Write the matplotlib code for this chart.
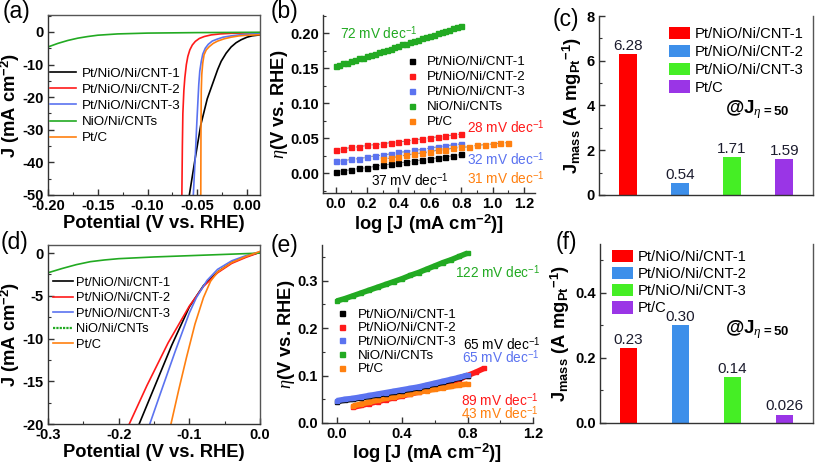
import matplotlib
matplotlib.use("Agg")
import matplotlib.pyplot as plt
from matplotlib.ticker import MultipleLocator
from matplotlib.lines import Line2D
from matplotlib.patches import Patch

plt.rcParams['font.family'] = ['Liberation Sans', 'DejaVu Sans']
plt.rcParams['mathtext.fontset'] = 'custom'
plt.rcParams['mathtext.rm'] = 'Liberation Sans'
plt.rcParams['mathtext.bf'] = 'Liberation Sans:bold'
plt.rcParams['mathtext.it'] = 'Liberation Serif:italic'

# ---------------- data ----------------
names = ['Pt/NiO/Ni/CNT-1', 'Pt/NiO/Ni/CNT-2', 'Pt/NiO/Ni/CNT-3', 'NiO/Ni/CNTs', 'Pt/C']
bar_names = ['Pt/NiO/Ni/CNT-1', 'Pt/NiO/Ni/CNT-2', 'Pt/NiO/Ni/CNT-3', 'Pt/C']

# (a) LSV acid
a_v1 = [-0.058, -0.0525, -0.0465, -0.040, -0.033, -0.0295, -0.026, -0.021, -0.016, -0.011, -0.006, 0.0, 0.005, 0.013]
a_j1 = [-50, -39.5, -28.5, -20.5, -14.5, -11.5, -9.0, -6.5, -4.6, -3.3, -2.4, -1.6, -1.2, -0.9]
a_v2 = [-0.0655, -0.065, -0.0645, -0.0635, -0.0625, -0.061, -0.0595, -0.0575, -0.055, -0.052, -0.048, -0.043, -0.036, -0.027, -0.015, 0.0, 0.013]
a_j2 = [-50, -35, -25, -18, -14, -10, -7.5, -5.5, -4.0, -2.9, -2.0, -1.4, -0.9, -0.6, -0.4, -0.3, -0.25]
a_v3 = [-0.054, -0.052, -0.0505, -0.0495, -0.0485, -0.0475, -0.046, -0.0445, -0.042, -0.039, -0.035, -0.030, -0.024, -0.016, -0.008, 0.0, 0.013]
a_j3 = [-50, -38, -28, -22, -16, -12, -9, -6.8, -5.0, -3.8, -2.8, -2.2, -1.6, -1.2, -0.9, -0.7, -0.5]
a_v4 = [-0.20, -0.19, -0.18, -0.17, -0.16, -0.15, -0.13, -0.10, -0.05, 0.013]
a_j4 = [-4.6, -3.5, -2.6, -1.9, -1.4, -1.0, -0.6, -0.35, -0.2, -0.1]
a_v5 = [-0.0465, -0.0463, -0.046, -0.0455, -0.0445, -0.0432, -0.041, -0.038, -0.034, -0.0296, -0.023, -0.016, -0.008, 0.0, 0.013]
a_j5 = [-50, -30, -18, -13, -9.5, -7, -5.5, -4.5, -3.5, -2.8, -2.1, -1.6, -1.2, -1.0, -0.85]

# (b) Tafel acid
b_x = [0.00, 0.05, 0.10, 0.15, 0.20, 0.25, 0.30, 0.35, 0.40, 0.45, 0.50, 0.55, 0.60, 0.65, 0.70, 0.75, 0.80]
b_y1 = [0.002, 0.004, 0.005, 0.007, 0.008, 0.010, 0.012, 0.013, 0.015, 0.016, 0.018, 0.019, 0.021, 0.022, 0.024, 0.025, 0.027]
b_y2 = [0.034, 0.035, 0.037, 0.038, 0.040, 0.041, 0.042, 0.044, 0.045, 0.046, 0.048, 0.049, 0.051, 0.052, 0.053, 0.055, 0.056]
b_y3 = [0.017, 0.018, 0.020, 0.021, 0.023, 0.025, 0.026, 0.028, 0.030, 0.031, 0.033, 0.034, 0.036, 0.038, 0.039, 0.041, 0.042]
b_x4 = [0.00, 0.025, 0.05, 0.075, 0.10, 0.125, 0.15, 0.175, 0.20, 0.225, 0.25, 0.275, 0.30, 0.325, 0.35, 0.375,
        0.40, 0.425, 0.45, 0.475, 0.50, 0.525, 0.55, 0.575, 0.60, 0.625, 0.65, 0.675, 0.70, 0.725, 0.75, 0.775, 0.80]
b_y4 = [0.153, 0.155, 0.157, 0.158, 0.160, 0.162, 0.164, 0.165, 0.167, 0.169, 0.171, 0.173, 0.175, 0.176, 0.178, 0.180,
        0.182, 0.184, 0.185, 0.187, 0.189, 0.191, 0.193, 0.194, 0.196, 0.198, 0.200, 0.202, 0.203, 0.205, 0.207, 0.209, 0.211]
b_x5 = [0.30, 0.35, 0.40, 0.45, 0.50, 0.55, 0.60, 0.65, 0.70, 0.75, 0.80, 0.85, 0.90, 0.95, 1.00, 1.05, 1.10]
b_y5 = [0.020, 0.022, 0.024, 0.026, 0.028, 0.029, 0.031, 0.033, 0.034, 0.036, 0.037, 0.038, 0.040, 0.041, 0.042, 0.043, 0.044]
b_labels = ['37 mV dec$^{-1}$', '28 mV dec$^{-1}$', '32 mV dec$^{-1}$', '72 mV dec$^{-1}$', '31 mV dec$^{-1}$']

# (c) mass activity acid
c_vals = [6.28, 0.54, 1.71, 1.59]
c_text = ['6.28', '0.54', '1.71', '1.59']

# (d) LSV alkaline
d_v1 = [-0.171, -0.15, -0.125, -0.10, -0.08, -0.06, -0.04, -0.02, 0.0]
d_j1 = [-20, -15.8, -10.8, -6.3, -3.8, -2.2, -1.1, -0.4, 0.1]
d_v2 = [-0.185, -0.16, -0.13, -0.10, -0.08, -0.06, -0.04, -0.02, 0.0]
d_j2 = [-20, -15.5, -10.5, -6.2, -3.9, -2.3, -1.2, -0.5, 0.1]
d_v3 = [-0.156, -0.14, -0.12, -0.10, -0.09, -0.075, -0.06, -0.04, -0.02, 0.0]
d_j3 = [-20, -16.2, -11.5, -7.0, -5.2, -3.2, -1.9, -0.9, -0.3, 0.15]
d_v4 = [-0.30, -0.28, -0.26, -0.24, -0.22, -0.20, -0.15, -0.10, -0.05, 0.0]
d_j4 = [-2.3, -1.8, -1.35, -1.0, -0.8, -0.65, -0.45, -0.3, -0.15, 0.0]
d_v5 = [-0.126, -0.115, -0.104, -0.092, -0.08, -0.07, -0.06, -0.04, -0.02, 0.0]
d_j5 = [-20, -16, -12.2, -8.3, -5.2, -3.3, -2.2, -1.1, -0.4, 0.2]

# (e) Tafel alkaline
e_x = [0.00, 0.05, 0.10, 0.15, 0.20, 0.25, 0.30, 0.35, 0.40, 0.45, 0.50, 0.55, 0.60, 0.65, 0.70, 0.75, 0.80]
e_y1 = [0.045, 0.048, 0.050, 0.053, 0.056, 0.059, 0.062, 0.065, 0.068, 0.071, 0.074, 0.078, 0.082, 0.086, 0.090, 0.095, 0.100]
e_y3 = [0.047, 0.050, 0.052, 0.055, 0.058, 0.061, 0.064, 0.067, 0.070, 0.073, 0.076, 0.080, 0.084, 0.088, 0.092, 0.096, 0.101]
e_y4 = [0.257, 0.262, 0.268, 0.274, 0.280, 0.286, 0.292, 0.298, 0.304, 0.311, 0.317, 0.324, 0.331, 0.338, 0.344, 0.351, 0.358]
e_x2 = [0.10, 0.15, 0.20, 0.25, 0.30, 0.35, 0.40, 0.45, 0.50, 0.55, 0.60, 0.65, 0.70, 0.75, 0.80, 0.85, 0.90]
e_y2 = [0.033, 0.037, 0.041, 0.045, 0.049, 0.053, 0.057, 0.061, 0.065, 0.070, 0.075, 0.080, 0.086, 0.092, 0.100, 0.107, 0.115]
e_x5 = [0.10, 0.15, 0.20, 0.25, 0.30, 0.35, 0.40, 0.45, 0.50, 0.55, 0.60, 0.65, 0.70, 0.75, 0.80]
e_y5 = [0.036, 0.040, 0.044, 0.048, 0.052, 0.055, 0.059, 0.062, 0.065, 0.068, 0.071, 0.074, 0.077, 0.080, 0.082]
e_labels = ['65 mV dec$^{-1}$', '89 mV dec$^{-1}$', '65 mV dec$^{-1}$', '122 mV dec$^{-1}$', '43 mV dec$^{-1}$']

# (f) mass activity alkaline
f_vals = [0.23, 0.30, 0.14, 0.026]
f_text = ['0.23', '0.30', '0.14', '0.026']

line_cols = ['#000000', '#ff1a1a', '#5b73f0', '#22aa22', '#ff8010']
bar_cols = ['#ff0000', '#3d8fea', '#45ee25', '#9a35e6']

# ---------------- figure ----------------
W, H = 817, 463
fig = plt.figure(figsize=(W / 100, H / 100), dpi=100)

TICK_FS = 10.5
LEG_FS = 9.6
ANN_FS = 9.8


def ax_at(l, t, r, b):
    return fig.add_axes([l / W, 1 - b / H, (r - l) / W, (b - t) / H])


def style(ax, top=True, right=True):
    for s in ['left', 'bottom']:
        ax.spines[s].set_color('#333333')
        ax.spines[s].set_linewidth(1.0)
    for s in ['top', 'right']:
        ax.spines[s].set_color('#555555')
        ax.spines[s].set_linewidth(1.0)
    ax.spines['top'].set_visible(top)
    ax.spines['right'].set_visible(right)
    ax.tick_params(which='both', direction='in', top=False, right=False, color='#333333')
    ax.tick_params(which='major', length=4, width=1, labelsize=TICK_FS, pad=3)
    ax.tick_params(which='minor', length=2, width=0.8)
    for lab in ax.get_xticklabels() + ax.get_yticklabels():
        lab.set_fontweight('bold')


LBL = dict(fontsize=13.2, fontweight='bold')

# (a)
ax = ax_at(48, 15, 260, 195)
for v, j, c, n in zip([a_v1, a_v2, a_v3, a_v4, a_v5], [a_j1, a_j2, a_j3, a_j4, a_j5], line_cols, names):
    ax.plot(v, j, color=c, lw=1.2, label=n)
ax.set_xlim(-0.2, 0.013)
ax.set_ylim(-50, 5.2)
ax.xaxis.set_minor_locator(MultipleLocator(0.025))
ax.yaxis.set_minor_locator(MultipleLocator(5))
ax.set_xticks([-0.2, -0.15, -0.1, -0.05, 0.0])
ax.set_xticklabels(['-0.20', '-0.15', '-0.10', '-0.05', '0.00'])
ax.set_yticks([-50, -40, -30, -20, -10, 0])
ax.set_yticklabels(['-50', '-40', '-30', '-20', '-10', '0'])
style(ax)
ax.set_xlabel('Potential (V vs. RHE)', labelpad=1, **LBL)
ax.set_ylabel(r'J (mA cm$^{\mathbf{-2}}$)', labelpad=0, **LBL)
ax.legend(loc='upper left', bbox_to_anchor=(-0.015, 0.737), frameon=False, fontsize=LEG_FS,
          handlelength=1.95, handletextpad=0.4, labelspacing=0.28, borderaxespad=0.0)

# (b)
ax = ax_at(323, 15, 535, 193)
bx = [b_x, b_x, b_x, b_x4, b_x5]
by = [b_y1, b_y2, b_y3, b_y4, b_y5]
for x, y, c in zip(bx, by, line_cols):
    ax.plot(x, y, ls='--', lw=0.7, color='#888888', zorder=1)
for x, y, c, n in zip(bx, by, line_cols, names):
    ax.plot(x, y, ls='none', marker='s', ms=3.6, mec=c, mfc=c, label=n, zorder=2)
ax.set_xlim(-0.08, 1.27)
ax.set_ylim(-0.028, 0.226)
ax.xaxis.set_minor_locator(MultipleLocator(0.1))
ax.yaxis.set_minor_locator(MultipleLocator(0.025))
style(ax, top=False, right=False)
ax.set_xticks([0, 0.2, 0.4, 0.6, 0.8, 1.0, 1.2])
ax.set_xticklabels(['0.0', '0.2', '0.4', '0.6', '0.8', '1.0', '1.2'], fontweight='bold')
ax.set_yticks([0, 0.05, 0.10, 0.15, 0.20])
ax.set_yticklabels(['0.00', '0.05', '0.10', '0.15', '0.20'], fontweight='bold')
ax.set_xlabel(r'log [J (mA cm$^{\mathbf{-2}}$)]', labelpad=1, **LBL)
ax.set_ylabel(r'$\eta$(V vs. RHE)', labelpad=0, **LBL)
ax.legend(loc='upper left', bbox_to_anchor=(0.362, 0.80), frameon=False, fontsize=LEG_FS,
          handlelength=1.0, handletextpad=0.6, labelspacing=0.2, borderaxespad=0.0,
          markerscale=1.0)
tf = dict(fontsize=ANN_FS, transform=ax.transAxes)
ax.text((340 - 323) / 212, 1 - (33 - 15) / 178, b_labels[3], color=line_cols[3], va='center', **tf)
ax.text((467 - 323) / 212, 1 - (127 - 15) / 178, b_labels[1], color=line_cols[1], va='center', **tf)
ax.text((467 - 323) / 212, 1 - (159 - 15) / 178, b_labels[2], color=line_cols[2], va='center', **tf)
ax.text((467 - 323) / 212, 1 - (178 - 15) / 178, b_labels[4], color=line_cols[4], va='center', **tf)
ax.text((371 - 323) / 212, 1 - (180 - 15) / 178, b_labels[0], color=line_cols[0], va='center', **tf)


def bar_panel(ax, vals, texts, ylim, major, minor, fmt, leg_anchor, leg_spacing, at_y):
    pos = [1, 2, 3, 4]
    ax.bar(pos, vals, width=0.34, color=bar_cols, label=bar_names)
    for p, v, t in zip(pos, vals, texts):
        ax.text(p, v + ylim[1] * 0.006, t, ha='center', va='bottom', fontsize=11, color='#1c1c2e')
    ax.set_xlim(0.45, 4.55)
    ax.set_ylim(*ylim)
    ax.set_xticks([])
    ax.yaxis.set_minor_locator(MultipleLocator(minor))
    style(ax, top=False, right=True)
    ticks = [i * major for i in range(int(round(ylim[1] / major)) + 1) if i * major <= ylim[1] + 1e-9]
    ax.set_yticks(ticks)
    ax.set_yticklabels([fmt.format(t) for t in ticks], fontweight='bold')
    ax.set_ylabel(r'J$_{\mathbf{mass}}$ (A mg$_{\mathbf{Pt}}$$^{\mathbf{-1}}$)', labelpad=2, **LBL)
    handles = [Patch(facecolor=c, edgecolor='none') for c in bar_cols]
    ax.legend(handles, bar_names, loc='upper left', bbox_to_anchor=leg_anchor, frameon=False,
              fontsize=10.6, handlelength=1.4, handleheight=0.9, handletextpad=0.35,
              labelspacing=leg_spacing, borderaxespad=0.0)
    ax.text(0.74, at_y, r'@J$_{\eta\,\mathbf{=50}}$', transform=ax.transAxes, ha='center', va='center',
            fontsize=13.5, fontweight='bold')


# (c)
ax = ax_at(599, 16, 813, 195)
bar_panel(ax, c_vals, c_text, (0, 8), 2, 1, '{:.0f}', (0.3, 0.97), 0.24, 1 - (110 - 16) / 179)

# (d)
ax = ax_at(48, 245, 260, 424)
for v, j, c, n in zip([d_v1, d_v2, d_v3, d_v4, d_v5], [d_j1, d_j2, d_j3, d_j4, d_j5], line_cols, names):
    ax.plot(v, j, color=c, lw=1.2)
ax.set_xlim(-0.3, 0.0)
ax.set_ylim(-20, 0.95)
ax.xaxis.set_minor_locator(MultipleLocator(0.05))
ax.yaxis.set_minor_locator(MultipleLocator(2.5))
ax.set_xticks([-0.3, -0.2, -0.1, 0.0])
ax.set_xticklabels(['-0.3', '-0.2', '-0.1', '0.0'])
ax.set_yticks([-20, -15, -10, -5, 0])
ax.set_yticklabels(['-20', '-15', '-10', '-5', '0'])
style(ax)
ax.set_xlabel('Potential (V vs. RHE)', labelpad=1, **LBL)
ax.set_ylabel(r'J (mA cm$^{\mathbf{-2}}$)', labelpad=0, **LBL)
d_handles = []
for i, c in enumerate(line_cols):
    if i == 3:
        d_handles.append(Line2D([], [], color=c, lw=1.6, ls=(0, (1.0, 0.5))))
    else:
        d_handles.append(Line2D([], [], color=c, lw=1.2))
ax.legend(d_handles, names, loc='upper left', bbox_to_anchor=(0.0, 0.853), frameon=False, fontsize=9.3,
          handlelength=1.5, handletextpad=0.3, labelspacing=0.27, borderaxespad=0.0)

# (e)
ax = ax_at(322, 245, 533, 423)
ex = [e_x, e_x2, e_x, e_x, e_x5]
ey = [e_y1, e_y2, e_y3, e_y4, e_y5]
for i in [1, 4, 0, 2, 3]:
    ax.plot(ex[i], ey[i], color=line_cols[i], lw=4.0, solid_capstyle='butt',
            marker='s', ms=3.5, mec=line_cols[i], mfc=line_cols[i])
ax.set_xlim(-0.09, 1.2)
ax.set_ylim(0, 0.375)
ax.xaxis.set_minor_locator(MultipleLocator(0.2))
ax.yaxis.set_minor_locator(MultipleLocator(0.05))
style(ax, top=False, right=False)
ax.set_xticks([0, 0.4, 0.8, 1.2])
ax.set_xticklabels(['0.0', '0.4', '0.8', '1.2'], fontweight='bold')
ax.set_yticks([0, 0.1, 0.2, 0.3])
ax.set_yticklabels(['0.0', '0.1', '0.2', '0.3'], fontweight='bold')
ax.set_xlabel(r'log [J (mA cm$^{\mathbf{-2}}$)]', labelpad=0, **LBL)
ax.set_ylabel(r'$\eta$(V vs. RHE)', labelpad=0, **LBL)
handles = [Line2D([], [], ls='none', marker='s', ms=3.6, color=c) for c in line_cols]
ax.legend(handles, names, loc='upper left', bbox_to_anchor=(0.036, 0.675), frameon=False, fontsize=LEG_FS,
          handlelength=1.0, handletextpad=0.7, labelspacing=0.1, borderaxespad=0.0)
tf = dict(fontsize=ANN_FS, transform=ax.transAxes, va='center')
ax.text((455 - 322) / 211, 1 - (272 - 245) / 178, e_labels[3], color=line_cols[3], **tf)
ax.text((463 - 322) / 211, 1 - (344 - 245) / 178, e_labels[0], color=line_cols[0], **tf)
ax.text((462 - 322) / 211, 1 - (357 - 245) / 178, e_labels[2], color=line_cols[2], **tf)
ax.text((461 - 322) / 211, 1 - (400 - 245) / 178, e_labels[1], color=line_cols[1], **tf)
ax.text((461 - 322) / 211, 1 - (413 - 245) / 178, e_labels[4], color=line_cols[4], **tf)

# (f)
ax = ax_at(600, 244, 813, 423)
bar_panel(ax, f_vals, f_text, (0, 0.55), 0.2, 0.1, '{:.1f}', (0.03, 1.0), 0.2, 1 - (330 - 244) / 179)

# panel letters
for txt, x, y in [('(a)', 3, 0), ('(b)', 271, 0), ('(c)', 553, 8), ('(d)', 1, 231), ('(e)', 271, 234), ('(f)', 556, 231)]:
    fig.text(x / W, 1 - y / H, txt, fontsize=16.5, va='top', ha='left')

fig.savefig('out.png', dpi=100)
